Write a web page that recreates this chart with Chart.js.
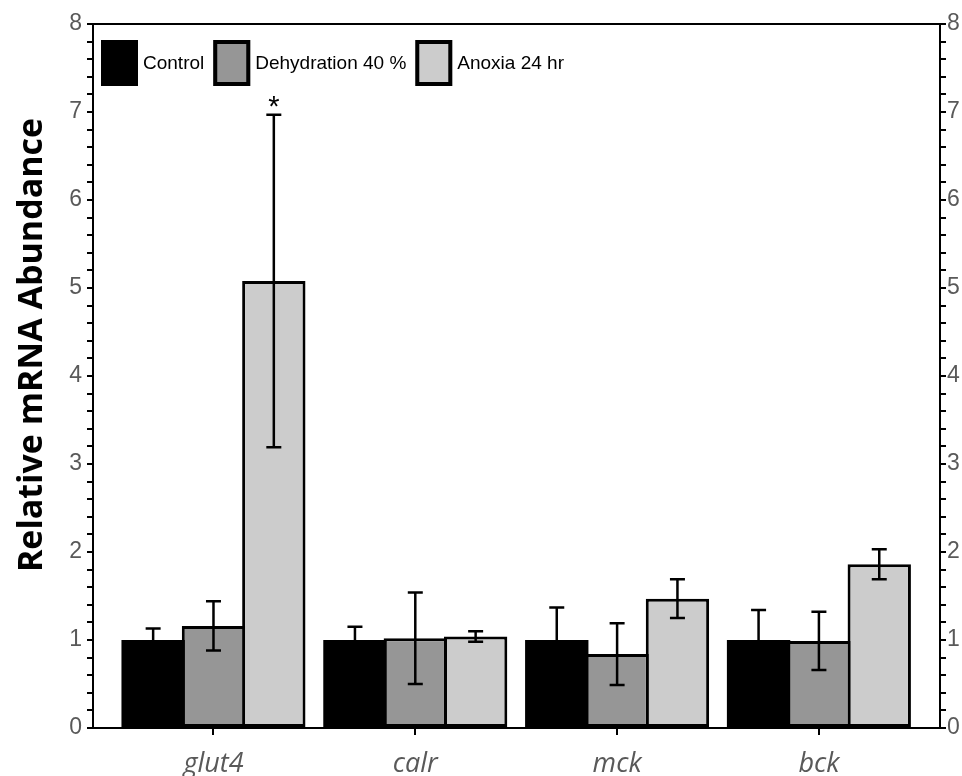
<!DOCTYPE html>
<html><head><meta charset="utf-8">
<script src="https://cdn.jsdelivr.net/npm/chart.js@4.4.1/dist/chart.umd.min.js"></script>
<style>html,body{margin:0;padding:0;background:#fff}#wrap{width:962px;height:776px;position:relative}</style>
</head><body><div id="wrap"><canvas id="c" width="962" height="776"></canvas></div>
<script>
// ---- data ----
const categories = ['glut4', 'calr', 'mck', 'bck'];
const seriesNames = ['Control', 'Dehydration 40 %', 'Anoxia 24 hr'];
const controlMean = [1.00, 1.00, 1.00, 1.00];
const controlErr = [0.13, 0.15, 0.37, 0.34];
const dehydrationMean = [1.16, 1.02, 0.84, 0.99];
const dehydrationErr = [0.28, 0.52, 0.35, 0.33];
const anoxiaMean = [5.08, 1.04, 1.47, 1.86];
const anoxiaErr = [1.89, 0.06, 0.22, 0.17];
const anoxiaMarks = ['*', '', '', ''];
const yTickLabels = [0, 1, 2, 3, 4, 5, 6, 7, 8];
const yTitle = 'Relative mRNA Abundance';

const toPoints = arr => arr.map((v, i) => ({ x: i, y: v }));

const errorBarPlugin = {
  id: 'errorBars',
  afterDatasetsDraw(chart) {
    const ctx = chart.ctx, ys = chart.scales.y;
    chart.data.datasets.forEach((ds, di) => {
      const meta = chart.getDatasetMeta(di);
      meta.data.forEach((bar, i) => {
        const m = ds.data[i].y, e = ds.errors[i];
        const x = bar.x;
        const yt = ys.getPixelForValue(m + e), yb = ys.getPixelForValue(m - e);
        ctx.save();
        ctx.strokeStyle = '#000'; ctx.lineWidth = 2.5; ctx.lineCap = 'butt';
        ctx.beginPath();
        ctx.moveTo(x, yt); ctx.lineTo(x, yb);
        ctx.moveTo(x - 7.5, yt); ctx.lineTo(x + 7.5, yt);
        ctx.moveTo(x - 7.5, yb); ctx.lineTo(x + 7.5, yb);
        ctx.stroke();
        if (ds.marks && ds.marks[i]) {
          ctx.fillStyle = '#000'; ctx.font = '29px "Liberation Sans"';
          ctx.textAlign = 'center'; ctx.textBaseline = 'alphabetic';
          ctx.fillText(ds.marks[i], x, yt + 1);
        }
        ctx.restore();
      });
    });
  }
};

const framePlugin = {
  id: 'frameAndLegend',
  afterDraw(chart) {
    const ctx = chart.ctx, ca = chart.chartArea;
    ctx.save();
    // top frame line
    ctx.strokeStyle = '#000'; ctx.lineWidth = 2;
    ctx.beginPath(); ctx.moveTo(ca.left, ca.top); ctx.lineTo(ca.right, ca.top); ctx.stroke();
    // legend inside plot
    let x = ca.left + 8; const top = ca.top + 16, h = 46, w = 37;
    ctx.font = '19px "Liberation Sans"';
    chart.data.datasets.forEach(ds => {
      ctx.fillStyle = ds.backgroundColor; ctx.fillRect(x, top, w, h);
      if (ds.legendBorder) { ctx.lineWidth = 4; ctx.strokeStyle = '#000'; ctx.strokeRect(x + 2, top + 2, w - 4, h - 4); }
      ctx.fillStyle = '#000'; ctx.textBaseline = 'middle'; ctx.textAlign = 'left';
      ctx.fillText(ds.label, x + w + 5, top + h / 2 + 1);
      x += w + 5 + ctx.measureText(ds.label).width + 9;
    });
    // y axis title
    ctx.translate(32, 345); ctx.rotate(-Math.PI / 2);
    ctx.font = 'bold 34px "Open Sans"'; ctx.fillStyle = '#000';
    ctx.textAlign = 'center'; ctx.textBaseline = 'middle';
    ctx.fillText(yTitle, 0, 0);
    ctx.restore();
  }
};

const tickFont = { family: '"Liberation Sans", Arial, sans-serif', size: 23 };
const yTickCb = v => (Math.abs(v - Math.round(v)) < 1e-6 && yTickLabels.includes(Math.round(v))) ? String(Math.round(v)) : '';
const gridOpts = { display: true, drawOnChartArea: false, drawTicks: true, tickLength: 6, color: '#000', lineWidth: 2, offset: false };

new Chart(document.getElementById('c'), {
  type: 'bar',
  data: {
    datasets: [
      { label: seriesNames[0], data: toPoints(controlMean), errors: controlErr, backgroundColor: '#000000', borderColor: '#000000', borderWidth: 0, legendBorder: false },
      { label: seriesNames[1], data: toPoints(dehydrationMean), errors: dehydrationErr, backgroundColor: '#969696', borderColor: '#000000', borderWidth: 3, legendBorder: true },
      { label: seriesNames[2], data: toPoints(anoxiaMean), errors: anoxiaErr, marks: anoxiaMarks, backgroundColor: '#cccccc', borderColor: '#000000', borderWidth: 3, legendBorder: true }
    ]
  },
  options: {
    responsive: false, animation: false,
    devicePixelRatio: 1,
    layout: { padding: { top: 24, left: 0, right: 0, bottom: 0 } },
    datasets: { bar: { categoryPercentage: 0.897, barPercentage: 1.05, borderSkipped: false } },
    plugins: { legend: { display: false }, tooltip: { enabled: false } },
    scales: {
      x: {
        type: 'linear', min: -0.597, max: 3.6, offset: false,
        afterBuildTicks: s => { s.ticks = categories.map((c, i) => ({ value: i })); },
        afterFit: s => { s.height = 48; },
        ticks: { autoSkip: false, maxRotation: 0, padding: 13, color: '#595959',
          font: { family: '"Open Sans", sans-serif', size: 27, style: 'italic' },
          callback: v => categories[v] },
        grid: { ...gridOpts, tickLength: 7 },
        border: { display: true, color: '#000', width: 2 }
      },
      y: {
        type: 'linear', position: 'left', min: 0, max: 8,
        afterFit: s => { s.width = 93; },
        ticks: { stepSize: 0.2, autoSkip: false, padding: 5, color: '#595959', font: tickFont, callback: yTickCb },
        grid: gridOpts,
        border: { display: true, color: '#000', width: 2 }
      },
      y2: {
        type: 'linear', position: 'right', min: 0, max: 8,
        afterFit: s => { s.width = 22; },
        ticks: { stepSize: 0.2, autoSkip: false, padding: 1, color: '#595959', font: tickFont, callback: yTickCb },
        grid: gridOpts,
        border: { display: true, color: '#000', width: 2 }
      }
    }
  },
  plugins: [errorBarPlugin, framePlugin]
});
</script></body></html>
